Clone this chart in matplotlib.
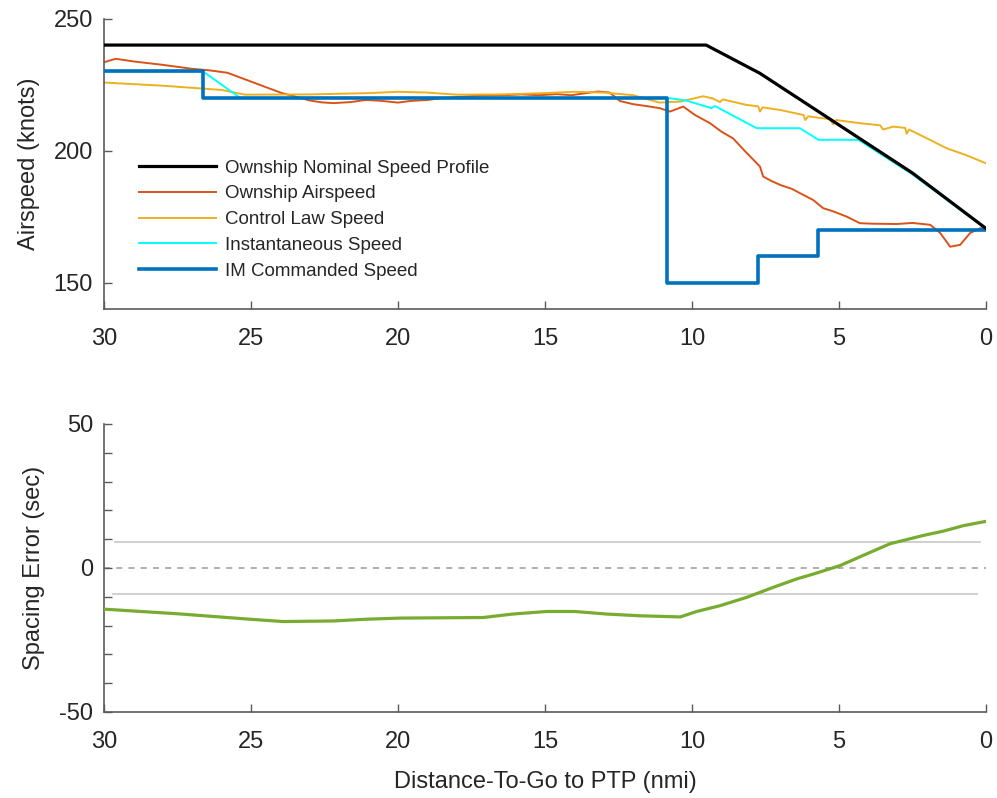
import matplotlib.pyplot as plt
import numpy as np

plt.rcParams.update({
    "font.family": ["Liberation Sans", "DejaVu Sans"],
    "font.size": 17,
    "text.color": "#262626",
    "axes.labelcolor": "#262626",
    "xtick.color": "#5a5a5a",
    "ytick.color": "#5a5a5a",
    "xtick.labelcolor": "#262626",
    "ytick.labelcolor": "#262626",
})

# ---- Top panel: speeds vs. distance-to-go (nmi, knots) ----
nominal_d = [30.0, 9.52, 7.69, 2.5, 0.0]
nominal_v = [240.0, 240.0, 229.3, 191.5, 170.5]

airspeed_d = [30.0, 29.6, 29.0, 28.0, 27.0, 26.4, 25.8, 25.2, 24.6, 24.0, 23.6, 23.0,
              22.6, 22.2, 21.6, 21.1, 20.6, 20.0, 19.6, 19.0, 18.6, 18.3, 17.6, 17.0,
              16.4, 15.8, 15.2, 14.6, 14.1, 13.6, 13.2, 12.8, 12.45, 12.0, 11.5, 11.1,
              10.75, 10.3, 9.9, 9.39, 9.0, 8.6, 8.13, 7.69, 7.58, 7.3, 7.0, 6.6, 6.33,
              5.88, 5.54, 5.2, 4.74, 4.29, 3.8, 3.03, 2.5, 1.9, 1.56, 1.22, 0.88, 0.54,
              0.2, 0.0]
airspeed_v = [233.5, 234.8, 233.8, 232.5, 231.0, 230.4, 229.5, 227.0, 224.5, 222.0, 220.8,
              219.0, 218.3, 218.0, 218.4, 219.2, 218.9, 218.2, 218.8, 219.2, 219.8, 220.0,
              220.6, 220.9, 221.0, 221.3, 221.0, 221.4, 221.0, 221.8, 222.4, 222.0, 218.8,
              217.6, 216.8, 216.1, 214.8, 216.7, 213.5, 210.4, 207.2, 204.6, 199.0, 194.0,
              190.2, 188.5, 187.0, 185.5, 183.9, 181.3, 178.2, 177.0, 175.0, 172.5, 172.3,
              172.2, 172.6, 171.9, 168.8, 163.6, 164.3, 168.8, 170.6, 170.5]

control_d = [30.0, 28.0, 26.0, 25.2, 23.0, 21.0, 20.0, 19.0, 18.0, 16.5, 15.0, 14.0,
             13.0, 12.0, 11.1, 10.4, 9.62, 9.3, 9.05, 8.95, 8.14, 7.75, 7.69, 7.6,
             7.0, 6.21, 6.15, 6.05, 5.31, 5.2, 5.1, 4.29, 3.6, 3.5, 3.15, 2.75, 2.7,
             2.62, 2.02, 1.34, 0.7, 0.0]
control_v = [225.8, 224.6, 223.0, 221.2, 221.3, 221.8, 222.3, 222.0, 221.2, 221.3, 221.8,
             222.3, 222.0, 221.0, 218.2, 218.6, 220.6, 219.8, 218.4, 219.4, 217.3, 216.8,
             214.8, 216.4, 215.4, 213.5, 211.6, 213.0, 211.9, 210.0, 211.6, 210.4, 209.6,
             208.0, 209.1, 208.6, 206.4, 208.0, 204.7, 200.9, 198.4, 195.2]

inst_d = [30.0, 26.63, 25.37, 10.86, 10.2, 9.34, 9.22, 7.8, 6.33, 5.7, 4.34, 2.5, 0.0]
inst_v = [230.0, 230.0, 220.0, 220.0, 219.0, 216.1, 216.9, 208.5, 208.5, 204.1, 204.1,
          191.0, 170.3]

cmd_d = [30.0, 26.63, 10.86, 7.76, 5.71, 0.0]
cmd_v = [230.0, 220.0, 150.0, 160.0, 170.0, 170.0]

# ---- Bottom panel: spacing error (sec) ----
err_d = [30.0, 27.5, 25.03, 23.9, 22.2, 21.1, 19.93, 17.1, 16.1, 14.94, 14.0, 12.9,
         11.77, 10.4, 9.84, 9.05, 8.14, 7.23, 6.44, 5.87, 4.97, 4.06, 3.27, 2.13, 1.45,
         0.77, 0.0]
err_s = [-14.3, -15.9, -17.8, -18.6, -18.4, -17.8, -17.4, -17.2, -16.0, -15.1, -15.1,
         -16.0, -16.6, -17.0, -15.1, -13.1, -10.2, -6.7, -3.8, -2.1, 0.8, 4.9, 8.4,
         11.3, 12.8, 14.7, 16.2]
tolerance = 9.0

C_BLACK = "#000000"
C_ORANGE = "#D95319"
C_YELLOW = "#EDB120"
C_CYAN = "#00FFFF"
C_BLUE = "#0072BD"
C_GREEN = "#77AC30"
SPINE = "#5a5a5a"

fig = plt.figure(figsize=(9.97, 7.98), dpi=100)
ax1 = fig.add_axes([0.1043, 0.6128, 0.8847, 0.3638])
ax2 = fig.add_axes([0.1043, 0.1078, 0.8847, 0.3609])

ax1.plot(nominal_d, nominal_v, color=C_BLACK, lw=2.3, zorder=3.5,
         label="Ownship Nominal Speed Profile")
ax1.plot(airspeed_d, airspeed_v, color=C_ORANGE, lw=1.4, zorder=2.0,
         label="Ownship Airspeed")
ax1.plot(control_d, control_v, color=C_YELLOW, lw=1.4, zorder=2.1,
         label="Control Law Speed")
ax1.plot(inst_d, inst_v, color=C_CYAN, lw=1.4, zorder=2.2,
         label="Instantaneous Speed")
ax1.plot(cmd_d, cmd_v, color=C_BLUE, lw=2.6, zorder=3.0, drawstyle="steps-post",
         label="IM Commanded Speed")

ax1.set_xlim(30, 0)
ax1.set_ylim(140, 250)
ax1.set_xticks([30, 25, 20, 15, 10, 5, 0])
ax1.set_yticks([150, 200, 250])
ax1.set_ylabel("Airspeed (knots)", labelpad=10)

leg = ax1.legend(loc="upper left", bbox_to_anchor=(0.04, 0.515), frameon=False,
                 fontsize=13.5, handlelength=4.1, handletextpad=0.45,
                 labelspacing=0.46, borderpad=0, borderaxespad=0)
for t in leg.get_texts():
    t.set_color("#262626")

ax2.axhline(tolerance, xmin=0.013, xmax=0.993, color="#cccccc", lw=1.3, zorder=1)
ax2.axhline(-tolerance, xmin=0.010, xmax=0.990, color="#cccccc", lw=1.3, zorder=1)
ax2.axhline(0, color="#9a9a9a", lw=1.1, ls=(0, (4, 4)), zorder=1)
ax2.plot(err_d, err_s, color=C_GREEN, lw=2.3, zorder=3)

ax2.set_xlim(30, 0)
ax2.set_ylim(-50, 50)
ax2.set_xticks([30, 25, 20, 15, 10, 5, 0])
ax2.set_yticks(np.arange(-50, 51, 10))
ax2.set_yticklabels(["-50", "", "", "", "", "0", "", "", "", "", "50"])
ax2.set_ylabel("Spacing Error (sec)", labelpad=10)
ax2.set_xlabel("Distance-To-Go to PTP (nmi)", labelpad=13)

for ax in (ax1, ax2):
    for side in ("top", "right"):
        ax.spines[side].set_visible(False)
    for side in ("left", "bottom"):
        ax.spines[side].set_color(SPINE)
        ax.spines[side].set_linewidth(1.2)
    ax.tick_params(direction="in", length=5.5, width=1.0, labelsize=17)
    ax.tick_params(axis="x", pad=14)
    ax.tick_params(axis="y", pad=8)

fig.savefig("out.png", dpi=100)
